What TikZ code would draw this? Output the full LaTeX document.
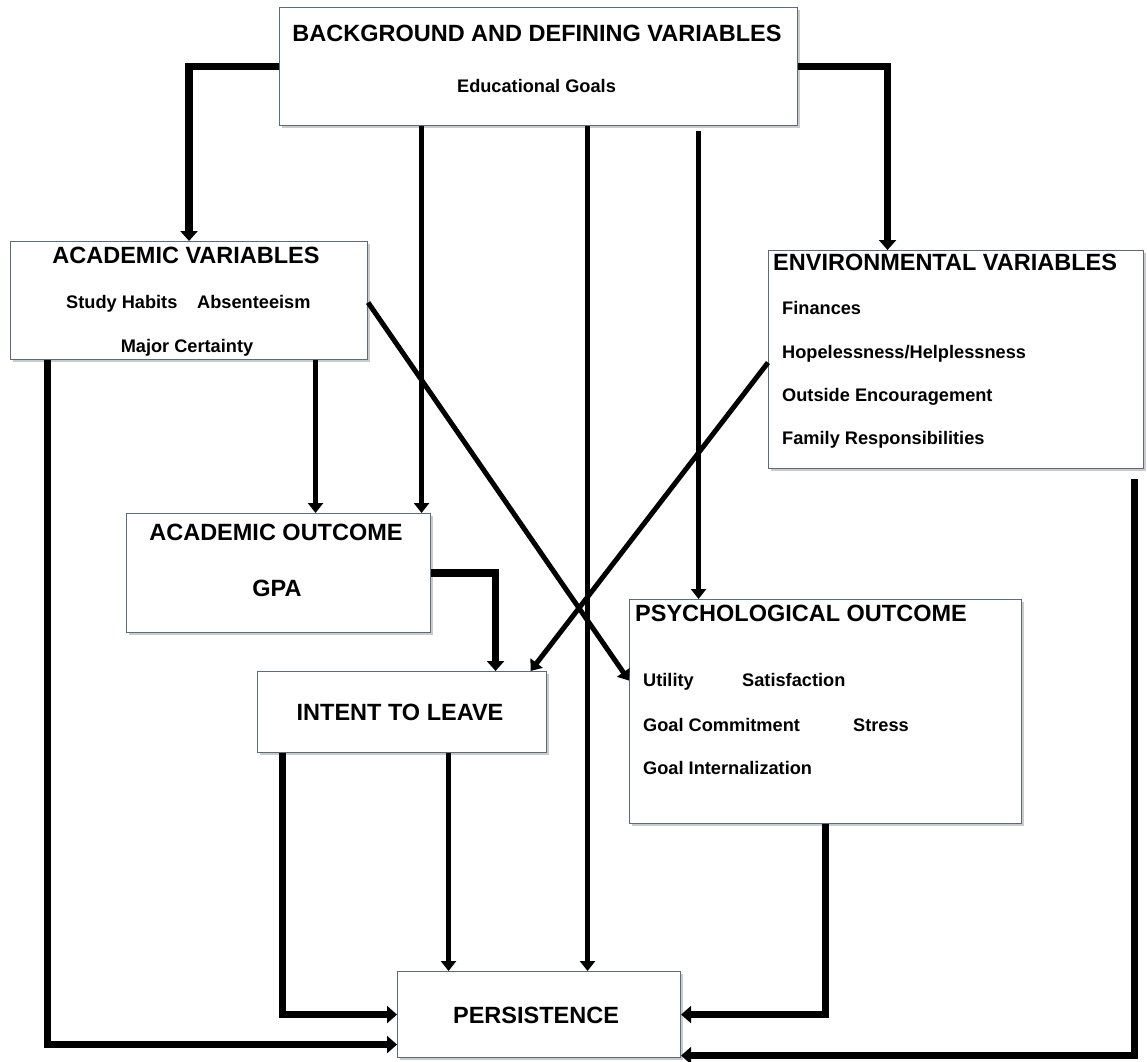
\documentclass[tikz,border=0pt]{standalone}
\usepackage{fontspec}
\setmainfont{Liberation Sans}
\usetikzlibrary{arrows.meta,shadows}
\definecolor{boxline}{RGB}{95,105,120}
\begin{document}
\begin{tikzpicture}[x=1pt,y=-1pt,
  box/.style={draw=boxline, line width=1.1pt, fill=white, inner sep=0pt, anchor=north west,
    drop shadow={shadow xshift=2.5pt, shadow yshift=-2.5pt, fill=black!45, opacity=0.45}},
  head/.style={inner sep=0pt, font=\fontsize{23.5}{28}\selectfont\bfseries},
  item/.style={inner sep=0pt, font=\fontsize{18.2}{22}\selectfont\bfseries},
  thinarrow/.style={line width=5pt, -{Triangle[length=10pt,width=15pt]}},
  thickarrow/.style={line width=7.5pt, -{Triangle[length=10pt,width=17pt]}}
]
\useasboundingbox (0,0) rectangle (1147,1061);

% boxes
\node[box, minimum width=518pt, minimum height=118pt] (bg) at (279,7) {};
\node[box, minimum width=357pt, minimum height=118pt] (av) at (10,241) {};
\node[box, minimum width=375pt, minimum height=218pt] (ev) at (768,250) {};
\node[box, minimum width=304pt, minimum height=119pt] (ao) at (126,513) {};
\node[box, minimum width=289pt, minimum height=81pt] (itl) at (257,671) {};
\node[box, minimum width=392pt, minimum height=224pt] (po) at (629,599) {};
\node[box, minimum width=283pt, minimum height=86pt] (pers) at (397,971) {};

% connectors
\draw[thickarrow] (bg.west) -| (av.north);
\draw[thickarrow] (bg.east) -| ([xshift=-68.5pt]ev.north);
\draw[thinarrow] ([xshift=-117pt]bg.south) -- ([xshift=-117pt]bg.south |- ao.north);
\draw[thinarrow] ([xshift=49pt]bg.south) -- ([xshift=49pt]bg.south |- pers.north);
\draw[thinarrow] ([xshift=160pt,yshift=-5pt]bg.south) -- ([xshift=160pt]bg.south |- po.north);
\draw[thinarrow] ([xshift=126.5pt]av.south) -- ([xshift=126.5pt]av.south |- ao.north);
\draw[thickarrow] ([xshift=-141.5pt]av.south) |- ([yshift=-30pt]pers.west);
\draw[thinarrow] ([yshift=-2pt]av.east) -- ([yshift=31pt]po.west);
\draw[thinarrow] ([yshift=-3pt]ev.west) -- ([xshift=128.5pt]itl.north);
\draw[thickarrow] (ao.east) -| ([xshift=93.5pt]itl.north);
\draw[thickarrow] ([xshift=-119.5pt]itl.south) |- (pers.west);
\draw[thinarrow] ([xshift=46.5pt]itl.south) -- ([xshift=46.5pt]itl.south |- pers.north);
\draw[thickarrow] (po.south) |- (pers.east);
\draw[thickarrow] ([xshift=178.5pt,yshift=-10pt]ev.south) |- ([yshift=-41pt]pers.east);

% texts
\node[head, anchor=base] (tbg) at (537,41.4) {BACKGROUND AND DEFINING VARIABLES};
\node[item, anchor=base] (tedu) at (536.5,92.5) {Educational Goals};

\node[head, anchor=base] (tav) at (186,263.4) {ACADEMIC VARIABLES};
\node[item, anchor=base west] (tstudy) at (66,308.5) {Study Habits};
\node[item, anchor=base west] (tabs) at (197,308.5) {Absenteeism};
\node[item, anchor=base] (tmajor) at (187,352.5) {Major Certainty};

\node[head, anchor=base west] (tev) at (773,270.4) {ENVIRONMENTAL VARIABLES};
\node[item, anchor=base west] (tfin) at (782,314.5) {Finances};
\node[item, anchor=base west] (thope) at (782,358.5) {Hopelessness/Helplessness};
\node[item, anchor=base west] (tout) at (782,401.5) {Outside Encouragement};
\node[item, anchor=base west] (tfam) at (782,444.5) {Family Responsibilities};

\node[head, anchor=base] (tao) at (276,540.4) {ACADEMIC OUTCOME};
\node[head, anchor=base] (tgpa) at (277,596.4) {GPA};

\node[head, anchor=base] (titl) at (400,720.4) {INTENT TO LEAVE};

\node[head, anchor=base west] (tpo) at (635,621.4) {PSYCHOLOGICAL OUTCOME};
\node[item, anchor=base west] (tutil) at (643,686.5) {Utility};
\node[item, anchor=base west] (tsat) at (742,686.5) {Satisfaction};
\node[item, anchor=base west] (tgc) at (643,731.5) {Goal Commitment};
\node[item, anchor=base west] (tstress) at (853,731.5) {Stress};
\node[item, anchor=base west] (tgi) at (643,774.5) {Goal Internalization};

\node[head, anchor=base] (tpers) at (536,1023.4) {PERSISTENCE};
\end{tikzpicture}
\end{document}
